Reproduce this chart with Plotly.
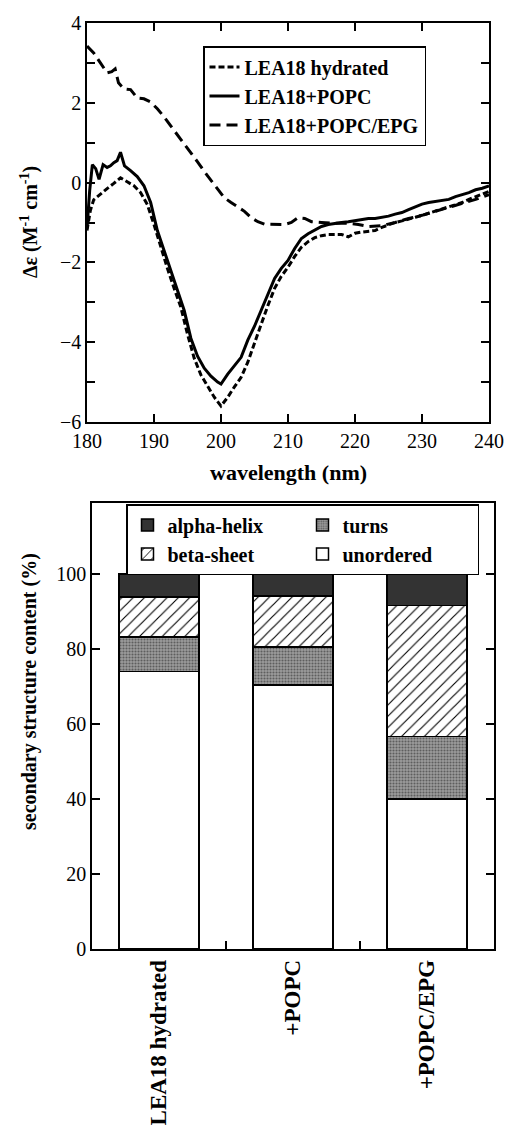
import plotly.graph_objects as go

# ---------------- data: CD spectra ----------------
wl_hydrated = [180, 180.5, 181, 182, 183, 184, 185, 186, 187, 188, 189, 190, 191, 192, 193, 194,
               195, 196, 197, 198, 199, 200, 201, 202, 203, 204, 205, 206, 207, 208, 209, 210,
               211, 212, 213, 214, 215, 216, 217, 218, 219, 220, 221, 222, 223, 224, 225, 226,
               227, 228, 229, 230, 231, 232, 233, 234, 235, 236, 237, 238, 239, 240]
de_hydrated = [-1.2, -0.7, -0.43, -0.28, -0.15, -0.02, 0.12, 0.02, -0.08, -0.25, -0.55, -1.05,
               -1.62, -2.15, -2.65, -3.12, -3.8, -4.4, -4.82, -5.1, -5.38, -5.6, -5.38, -5.12,
               -4.88, -4.5, -4.05, -3.55, -3.08, -2.65, -2.35, -2.12, -1.85, -1.62, -1.48, -1.38,
               -1.33, -1.3, -1.3, -1.3, -1.36, -1.27, -1.24, -1.22, -1.2, -1.12, -1.06, -1.0,
               -0.96, -0.92, -0.87, -0.82, -0.77, -0.71, -0.66, -0.61, -0.55, -0.5, -0.42, -0.36,
               -0.3, -0.22]

wl_popc = [180, 180.4, 180.8, 181.3, 181.8, 182.4, 183, 183.5, 184, 184.5, 185, 185.6, 186.5,
           187.5, 188.5, 189.5, 190.5, 191.5, 192.5, 193.5, 194.5, 195.5, 196.5, 197.5, 198.5,
           199.5, 200, 201, 202, 203, 204, 205, 206, 207, 208, 209, 210, 211, 212, 213, 214, 215,
           216, 217, 218, 219, 220, 221, 222, 223, 224, 225, 226, 227, 228, 229, 230, 231, 232,
           233, 234, 235, 236, 237, 238, 239, 240]
de_popc = [-1.15, -0.2, 0.45, 0.35, 0.08, 0.45, 0.38, 0.42, 0.5, 0.55, 0.76, 0.42, 0.3, 0.15,
           -0.08, -0.5, -1.2, -1.7, -2.2, -2.7, -3.2, -3.9, -4.35, -4.65, -4.85, -5.0, -5.05,
           -4.8, -4.6, -4.38, -3.95, -3.6, -3.2, -2.8, -2.4, -2.15, -1.95, -1.65, -1.4, -1.28,
           -1.2, -1.1, -1.05, -1.02, -1.0, -0.98, -0.95, -0.93, -0.9, -0.9, -0.87, -0.84, -0.79,
           -0.75, -0.68, -0.6, -0.54, -0.5, -0.47, -0.44, -0.42, -0.35, -0.3, -0.25, -0.18,
           -0.14, -0.08]

wl_epg = [180, 181, 182, 183, 183.7, 184.2, 184.7, 185.5, 186.5, 187.5, 188.5, 189.5, 190.5,
          191.5, 192.5, 193.5, 194.5, 195.5, 196.5, 197.5, 198.5, 199.5, 200.5, 201.5, 202.5,
          203.5, 204.5, 205.5, 206.5, 208, 209.5, 210.5, 211.5, 212.5, 213.5, 215, 217, 219,
          220.5, 222, 224, 226, 228, 230, 232, 234, 236, 238, 240]
de_epg = [3.42, 3.25, 3.0, 2.75, 2.78, 2.85, 2.5, 2.35, 2.33, 2.12, 2.1, 2.02, 1.85, 1.65, 1.42,
          1.2, 0.98, 0.76, 0.52, 0.28, 0.05, -0.18, -0.38, -0.5, -0.6, -0.72, -0.88, -0.98,
          -1.04, -1.05, -1.05, -1.0, -0.88, -0.9, -0.98, -1.0, -1.02, -1.02, -1.05, -1.1, -1.08,
          -1.0, -0.9, -0.82, -0.72, -0.62, -0.52, -0.42, -0.3]

spectra_names = ["LEA18 hydrated", "LEA18+POPC", "LEA18+POPC/EPG"]

# ---------------- data: secondary structure ----------------
categories = ["LEA18 hydrated", "+POPC", "+POPC/EPG"]
unordered = [74.0, 70.5, 40.0]
turns = [9.2, 10.1, 16.7]
beta_sheet = [10.7, 13.6, 34.9]
alpha_helix = [6.1, 5.8, 8.4]

W, H = 507, 1135
FONT = "Liberation Serif, Times New Roman, serif"

fig = go.Figure()

# --- top panel lines ---
line_styles = [dict(color="black", width=3, dash="6px,3px"),
               dict(color="black", width=3),
               dict(color="black", width=3, dash="11px,6px")]
for name, xs, ys, ls in zip(spectra_names,
                            [wl_hydrated, wl_popc, wl_epg],
                            [de_hydrated, de_popc, de_epg],
                            line_styles):
    fig.add_trace(go.Scatter(x=xs, y=ys, mode="lines", name=name, line=ls,
                             xaxis="x", yaxis="y", legend="legend"))

# --- bottom panel stacked bars ---
xpos = list(range(len(categories)))
bar_specs = [
    ("unordered", unordered, dict(color="white"), 4),
    ("turns", turns, dict(color="#8c8c8c",
                          pattern=dict(shape=".", fgcolor="#5e5e5e", bgcolor="#9c9c9c",
                                       size=3, solidity=0.4)), 2),
    ("beta-sheet", beta_sheet, dict(color="white",
                                    pattern=dict(shape="/", fgcolor="black", bgcolor="white",
                                                 size=8, solidity=0.14)), 3),
    ("alpha-helix", alpha_helix, dict(color="#333333"), 1),
]
for name, vals, mk, rank in bar_specs:
    mk = dict(mk)
    mk["line"] = dict(color="black", width=1.5)
    fig.add_trace(go.Bar(x=xpos, y=vals, name=name, marker=mk, width=0.6,
                         xaxis="x2", yaxis="y2", legend="legend2", legendrank=rank))

tickfont = dict(family=FONT, size=20, color="black")
axis_common = dict(showline=True, linecolor="black", linewidth=1.5, showgrid=False,
                   zeroline=False, ticks="inside", ticklen=8, tickwidth=1.5,
                   tickcolor="black", tickfont=tickfont, automargin=False)

fig.update_layout(
    template="none",
    width=W, height=H,
    margin=dict(l=0, r=0, t=0, b=0, autoexpand=False),
    paper_bgcolor="white", plot_bgcolor="white",
    barmode="stack",
    font=dict(family=FONT, color="black"),
    xaxis=dict(domain=[87 / W, 489 / W], anchor="y", range=[180, 240],
               tickvals=[180, 190, 200, 210, 220, 230, 240], mirror="ticks",
               **axis_common),
    yaxis=dict(domain=[1 - 422 / H, 1 - 23 / H], anchor="x", range=[-6, 4],
               tickvals=[-6, -4, -2, 0, 2, 4], mirror="ticks",
               minor=dict(tickvals=[-5, -3, -1, 1, 3], ticks="inside", ticklen=8,
                          tickwidth=1.5, tickcolor="black", showgrid=False),
               **axis_common),
    xaxis2=dict(domain=[92 / W, 494 / W], anchor="y2", range=[-0.5, 2.5],
                tickvals=xpos, ticktext=categories, tickangle=-90,
                showline=True, linecolor="black", linewidth=1.5, mirror=True,
                showgrid=False, zeroline=False, ticks="", automargin=False,
                tickfont=dict(family=FONT, size=23, color="black", weight="bold"),
                minor=dict(tickvals=[0.5, 1.5], ticks="inside", ticklen=8,
                           tickwidth=1.5, tickcolor="black", showgrid=False)),
    yaxis2=dict(domain=[1 - 949 / H, 1 - 503 / H], anchor="x2", range=[0, 119],
                tickvals=[0, 20, 40, 60, 80, 100], mirror="ticks",
                **axis_common),
    legend=dict(x=203 / W, y=1 - 46 / H, xanchor="left", yanchor="top",
                bordercolor="black", borderwidth=1.5, bgcolor="white",
                font=dict(family=FONT, size=20, color="black", weight="bold"),
                tracegroupgap=0, traceorder="normal"),
    legend2=dict(x=126 / W, y=1 - 504 / H, xanchor="left", yanchor="top",
                 orientation="h", entrywidth=130, entrywidthmode="pixels",
                 bordercolor="black", borderwidth=1.5, bgcolor="white",
                 font=dict(family=FONT, size=20, color="black", weight="bold"),
                 traceorder="normal"),
    annotations=[
        dict(text="Δε (M<sup>-1</sup> cm<sup>-1</sup>)", xref="paper", yref="paper",
             x=29 / W, y=1 - 222 / H, xanchor="center", yanchor="middle",
             textangle=-90, showarrow=False,
             font=dict(family=FONT, size=20, color="black", weight="bold")),
        dict(text="wavelength (nm)", xref="paper", yref="paper",
             x=288 / W, y=1 - 473 / H, xanchor="center", yanchor="middle",
             showarrow=False,
             font=dict(family=FONT, size=22, color="black", weight="bold")),
        dict(text="secondary structure content (%)", xref="paper", yref="paper",
             x=29 / W, y=1 - 692 / H, xanchor="center", yanchor="middle",
             textangle=-90, showarrow=False,
             font=dict(family=FONT, size=20, color="black", weight="bold")),
    ],
)

fig.write_html("out.html")
